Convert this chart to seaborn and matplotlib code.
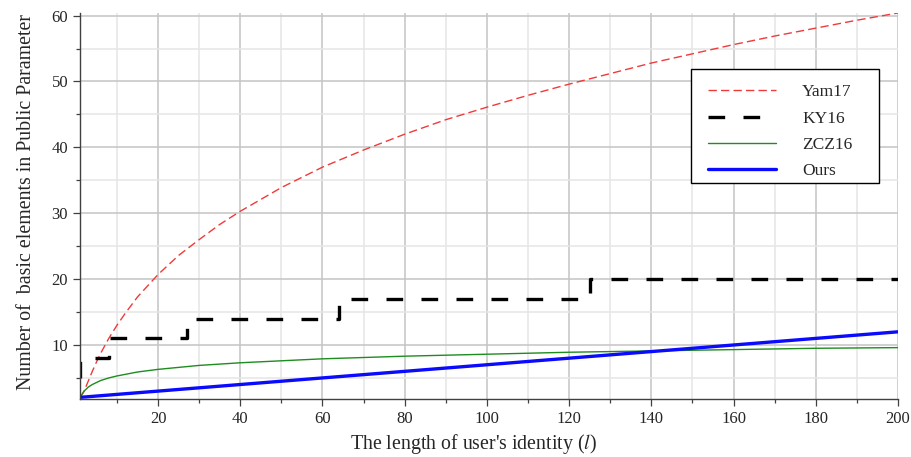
import matplotlib
matplotlib.use("Agg")
import matplotlib.pyplot as plt
import pandas as pd
import seaborn as sns
from matplotlib.patches import Rectangle
from matplotlib.ticker import MultipleLocator

# ---- data ----
yam_l = [1, 2, 3, 4, 5, 6, 8, 10, 12, 15, 20, 25, 30, 35, 40, 50, 60, 70, 80,
         90, 100, 110, 120, 130, 140, 150, 160, 170, 180, 190, 200]
yam_n = [2.0, 3.0, 4.5, 6.0, 7.4, 8.7, 11.0, 13.0, 14.8, 17.3, 20.7, 23.6, 26.0,
         28.3, 30.3, 33.9, 37.0, 39.6, 42.0, 44.2, 46.1, 47.9, 49.6, 51.2, 52.8,
         54.2, 55.6, 56.9, 58.1, 59.3, 60.4]

ky_l = [1, 1, 8, 27, 64, 125, 200]
ky_n = [5, 8, 11, 14, 17, 20, 20]

zcz_l = [1, 2, 3, 4, 6, 8, 10, 15, 20, 30, 40, 50, 60, 80, 100, 120, 140, 160,
         180, 200]
zcz_n = [2.0, 3.0, 3.6, 4.0, 4.6, 5.0, 5.3, 5.9, 6.3, 6.9, 7.3, 7.6, 7.9, 8.3,
         8.6, 8.9, 9.1, 9.3, 9.5, 9.6]

ours_l = [1, 200]
ours_n = [2.05, 12.0]

sns.set_style("ticks")
plt.rcParams["font.family"] = ["Liberation Serif", "DejaVu Serif"]
plt.rcParams["mathtext.fontset"] = "stix"

fig = plt.figure(figsize=(9.12, 4.57), dpi=100)
ax = fig.add_axes([0.0877, 0.1269, 0.8969, 0.8447])

sns.lineplot(x=yam_l, y=yam_n, ax=ax, color="#f03a3a", linewidth=1.0,
             linestyle=(0, (6, 3)), label="Yam17", estimator=None, sort=False)
sns.lineplot(x=ky_l, y=ky_n, ax=ax, color="black", linewidth=2.4,
             linestyle=(0, (5, 5.5)), drawstyle="steps-post", label="KY16",
             estimator=None, sort=False)
sns.lineplot(x=zcz_l, y=zcz_n, ax=ax, color="#1e8c1e", linewidth=1.0,
             label="ZCZ16", estimator=None, sort=False)
sns.lineplot(x=ours_l, y=ours_n, ax=ax, color="#0a0aff", linewidth=2.4,
             label="Ours", estimator=None, sort=False)

ax.set_xlim(1, 200)
ax.set_ylim(1.8, 60.4)
ax.xaxis.set_major_locator(MultipleLocator(20))
ax.xaxis.set_minor_locator(MultipleLocator(10))
ax.yaxis.set_major_locator(MultipleLocator(10))
ax.yaxis.set_minor_locator(MultipleLocator(5))
ax.grid(which="major", color="#c4c4c4", linewidth=1.1)
ax.grid(which="minor", color="#e6e6e6", linewidth=1.1)
ax.set_axisbelow(True)

sns.despine(ax=ax)
for side in ("left", "bottom"):
    ax.spines[side].set_color("#404040")
    ax.spines[side].set_linewidth(1.0)
ax.tick_params(which="major", length=5, width=0.9, color="#404040",
               labelsize=12, pad=3.5)
ax.tick_params(which="minor", length=3, width=0.9, color="#404040")

ax.set_xlabel("The length of user's identity ($\\it{l}$)", fontsize=14.3)
ax.set_ylabel("Number of  basic elements in Public Parameter", fontsize=14.3)
ax.xaxis.set_label_coords(0.4817, -0.085)
ax.yaxis.set_label_coords(-0.054, 0.51)

# legend: plain square box drawn separately, entries placed inside it
ax.add_patch(Rectangle((0.7466, 0.5588), 0.2306, 0.2953, transform=ax.transAxes,
                       facecolor="white", edgecolor="black", linewidth=1.0,
                       zorder=4.5))
leg = ax.legend(loc="upper left", bbox_to_anchor=(0.756, 0.8399),
                borderaxespad=0, fontsize=12.5, handlelength=3.9,
                handletextpad=1.53, labelspacing=0.58, borderpad=0.55,
                frameon=False)
leg.set_zorder(5)

fig.savefig("out.png", dpi=100)
